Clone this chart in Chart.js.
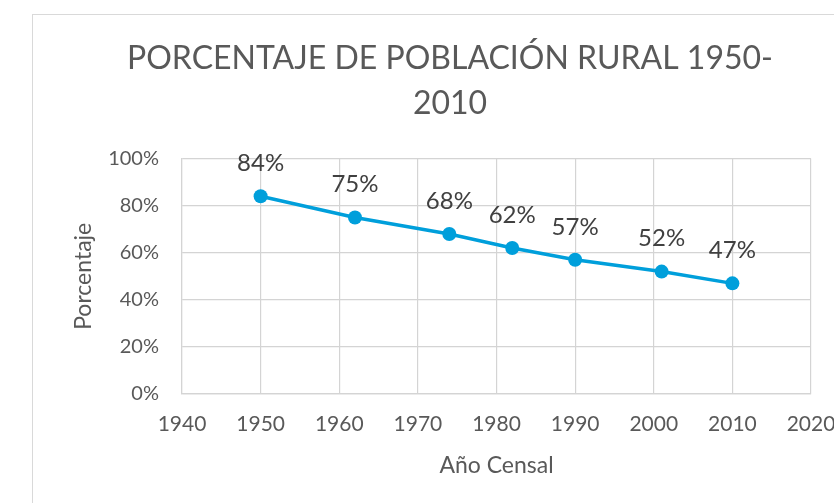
<!DOCTYPE html>
<html lang="es">
<head>
<meta charset="utf-8">
<title>Porcentaje de población rural 1950-2010</title>
<script src="https://cdn.jsdelivr.net/npm/chart.js@4.4.1/dist/chart.umd.min.js"></script>
<style>
  html, body { margin: 0; padding: 0; background: #fff; overflow: hidden; }
  body { width: 834px; height: 503px; position: relative; }
  .frame {
    position: absolute; left: 32px; top: 14px;
    width: 834px; height: 488px;
    border: 1px solid #d9d9d9; background: #fff;
  }
</style>
</head>
<body>
<div class="frame"><canvas id="ruralChart"></canvas></div>
<script>
// censos y porcentaje de población rural
const years = [1950, 1962, 1974, 1982, 1990, 2001, 2010];
const ruralPct = [84, 75, 68, 62, 57, 52, 47];
const titleLines = ['PORCENTAJE DE POBLACIÓN RURAL 1950-', '2010'];
const xTitle = 'Año Censal';
const yTitle = 'Porcentaje';

const FONT = 'Lato, "Open Sans", sans-serif';
const BLUE = '#009fdb';
const GRID = '#d4d4d4';

// etiqueta de valor encima de cada punto
const pointLabels = {
  id: 'pointLabels',
  afterDatasetsDraw(chart) {
    const ctx = chart.ctx;
    const meta = chart.getDatasetMeta(0);
    ctx.save();
    ctx.font = '24px ' + FONT;
    ctx.fillStyle = '#404040';
    ctx.textAlign = 'center';
    ctx.textBaseline = 'middle';
    meta.data.forEach((pt, i) => {
      ctx.fillText(ruralPct[i] + '%', pt.x, pt.y - 33);
    });
    ctx.restore();
  }
};

const canvas = document.getElementById('ruralChart');
new Chart(canvas, {
  type: 'scatter',
  data: {
    datasets: [{
      label: 'Población rural',
      data: years.map((y, i) => ({ x: y, y: ruralPct[i] })),
      showLine: true,
      borderColor: BLUE,
      backgroundColor: BLUE,
      borderWidth: 3.5,
      pointRadius: 7,
      pointHoverRadius: 7,
      pointBorderWidth: 0
    }]
  },
  options: {
    responsive: true,
    maintainAspectRatio: false,
    animation: false,
    layout: { padding: 0 },
    plugins: {
      legend: { display: false },
      tooltip: { enabled: false },
      title: {
        display: true,
        text: titleLines,
        color: '#595959',
        font: { family: FONT, size: 32, weight: 'normal', lineHeight: 1.4 },
        padding: { top: 21, bottom: 33 }
      }
    },
    scales: {
      x: {
        type: 'linear',
        min: 1940,
        max: 2020,
        grid: { color: GRID, lineWidth: 1.2, drawTicks: false },
        border: { color: GRID, width: 1.2 },
        ticks: {
          stepSize: 10,
          padding: 18,
          color: '#595959',
          font: { family: FONT, size: 21 },
          callback: v => String(v)
        },
        title: {
          display: true,
          text: xTitle,
          color: '#595959',
          font: { family: FONT, size: 23 },
          padding: { top: 0, bottom: 24 }
        },
        afterFit(scale) { scale.height = 109; }
      },
      y: {
        min: 0,
        max: 100,
        grid: { color: GRID, lineWidth: 1.2, drawTicks: false },
        border: { color: GRID, width: 1.2 },
        ticks: {
          stepSize: 20,
          padding: 23,
          color: '#595959',
          font: { family: FONT, size: 20 },
          callback: v => v + '%'
        },
        title: {
          display: true,
          text: yTitle,
          color: '#595959',
          font: { family: FONT, size: 23 },
          padding: { top: 37, bottom: 0 }
        },
        afterFit(scale) { scale.width = 149; }
      },
      // espacio libre a la derecha del área de trazado
      spacer: {
        type: 'linear',
        position: 'right',
        display: true,
        grid: { display: false },
        border: { display: false },
        ticks: { display: false },
        afterFit(scale) { scale.width = 56; }
      }
    }
  },
  plugins: [pointLabels]
});
</script>
</body>
</html>
